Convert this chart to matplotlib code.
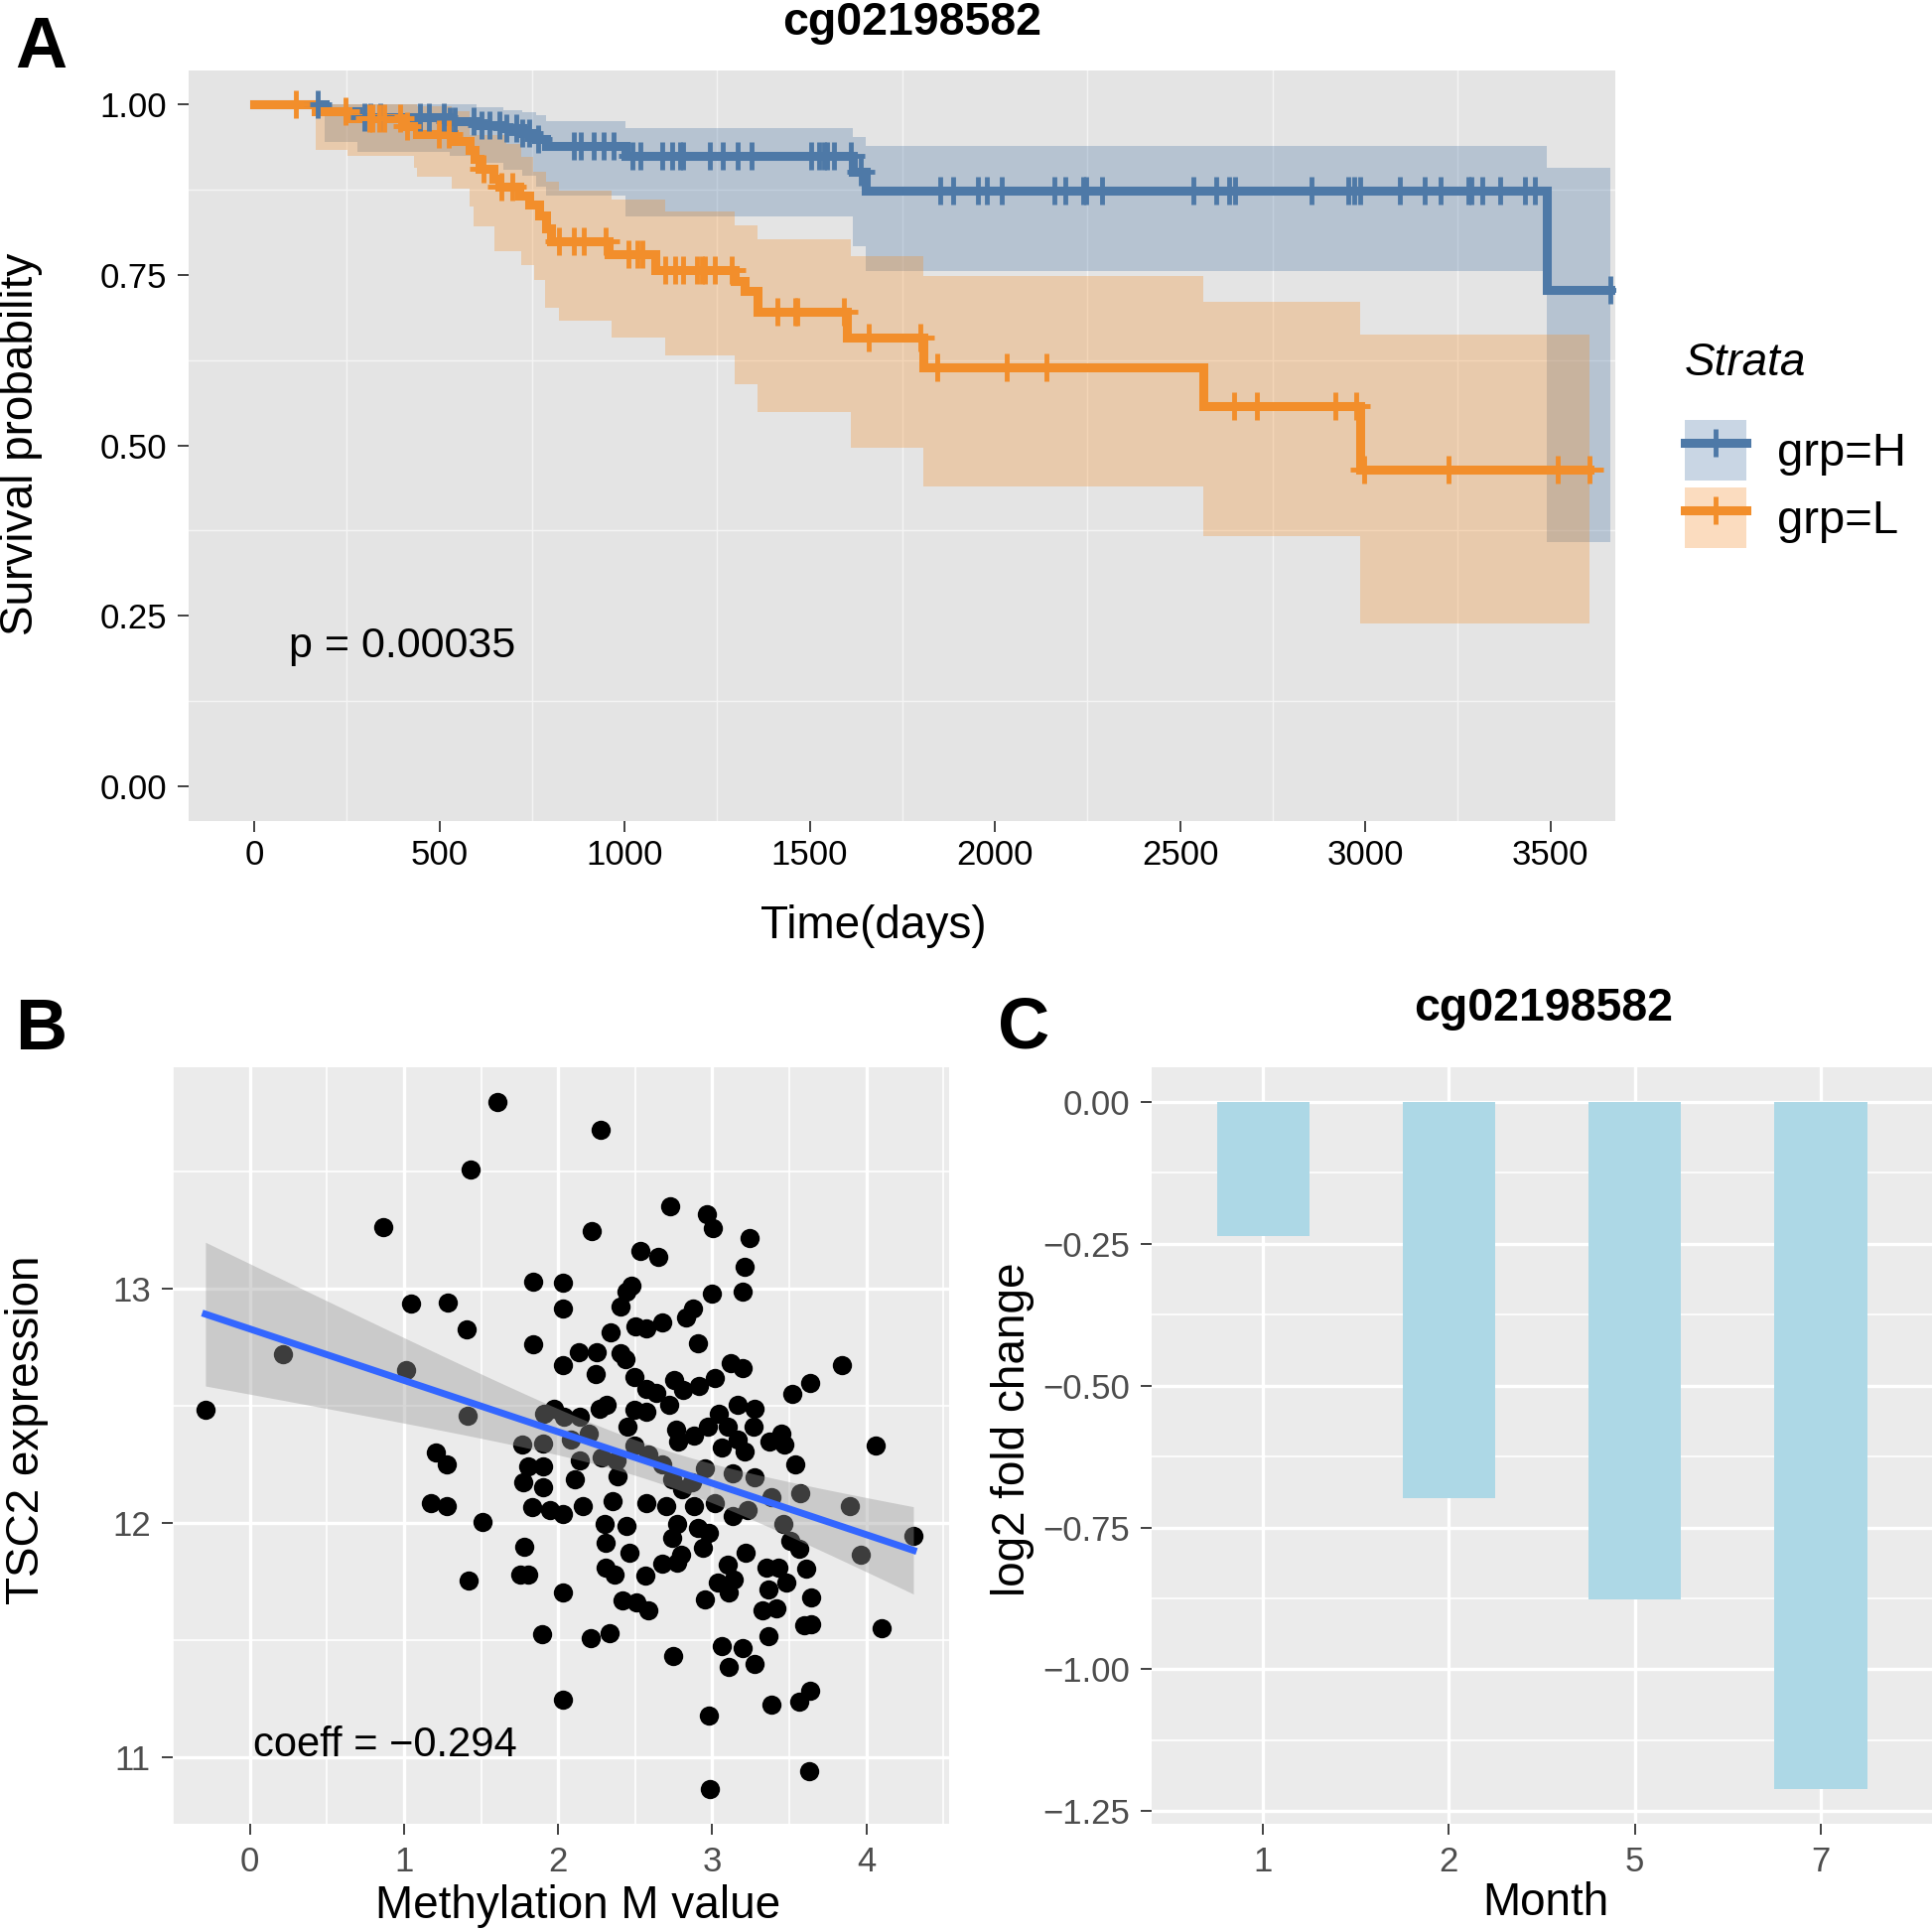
import numpy as np
import matplotlib.pyplot as plt
from matplotlib.patches import Patch
from matplotlib.lines import Line2D

plt.rcParams['font.family'] = ['Liberation Sans', 'DejaVu Sans']

# --- A: Kaplan-Meier data ---
h_time = [0, 190, 280, 529, 600, 672, 725, 761, 788, 1002, 1615, 1650, 3490]
h_surv = [1.0, 0.990, 0.981, 0.975, 0.970, 0.965, 0.958, 0.950, 0.940, 0.925, 0.901, 0.874, 0.728]
h_end = 3661
h_censor = [172, 297, 314, 341, 448, 471, 511, 529, 542, 591, 614, 636, 663, 681, 708, 725,
            743, 766, 864, 882, 918, 944, 971, 1020, 1043, 1101, 1128, 1150, 1159, 1230, 1266,
            1306, 1342, 1503, 1525, 1539, 1547, 1565, 1610, 1637, 1851, 1886, 1954, 1979, 2019,
            2160, 2190, 2238, 2246, 2290, 2536, 2597, 2632, 2649, 2854, 2953, 2971, 2987, 3092,
            3161, 3203, 3277, 3285, 3315, 3363, 3431, 3458, 3661]
h_band_t = [190, 280, 529, 600, 672, 725, 761, 788, 1002, 1615, 1650, 3490]
h_band_lo = [0.945, 0.930, 0.925, 0.915, 0.905, 0.895, 0.880, 0.866, 0.836, 0.792, 0.756, 0.358]
h_band_hi = [1.0, 1.0, 1.0, 0.996, 0.992, 0.989, 0.985, 0.975, 0.965, 0.952, 0.939, 0.907]

l_time = [0, 166, 252, 404, 440, 538, 582, 595, 609, 645, 663, 716, 743, 770, 788, 801, 958,
          1083, 1297, 1324, 1360, 1601, 1806, 2562, 2986]
l_surv = [1.0, 0.991, 0.980, 0.969, 0.957, 0.947, 0.934, 0.921, 0.906, 0.891, 0.879, 0.866,
          0.853, 0.838, 0.819, 0.799, 0.780, 0.758, 0.741, 0.727, 0.696, 0.658, 0.615, 0.558, 0.464]
l_end = 3604
l_censor = [113, 247, 310, 319, 337, 350, 395, 413, 498, 525, 618, 667, 698, 824, 864, 891, 949,
            1011, 1034, 1047, 1110, 1136, 1159, 1195, 1208, 1217, 1244, 1288, 1413, 1462, 1467,
            1592, 1659, 1798, 1845, 2033, 2139, 2645, 2706, 2918, 2976, 2996, 3226, 3520, 3604]
l_band_t = [166, 252, 431, 440, 534, 582, 591, 649, 680, 721, 752, 757, 784, 788, 824, 966, 1110,
            1297, 1360, 1610, 1806, 2563, 2987]
l_band_hi = [1.0, 1.0, 1.0, 0.998, 0.990, 0.955, 0.955, 0.955, 0.942, 0.923, 0.901, 0.901, 0.901,
             0.887, 0.874, 0.860, 0.843, 0.823, 0.802, 0.777, 0.748, 0.711, 0.663]
l_band_lo = [0.933, 0.925, 0.908, 0.894, 0.877, 0.850, 0.821, 0.785, 0.785, 0.765, 0.765, 0.743,
             0.702, 0.702, 0.683, 0.658, 0.632, 0.590, 0.549, 0.497, 0.440, 0.367, 0.239]

# --- B: methylation vs expression ---
meth_m = [-0.288, 0.216, 0.863, 1.014, 1.046, 1.286, 1.430, 1.406, 1.414, 1.605, 1.206, 1.278,
          1.174, 1.278, 1.510, 1.422, 2.276, 2.220, 1.837, 2.029, 2.029, 1.837, 2.133, 2.252,
          2.029, 2.724, 2.963, 3.003, 3.243, 2.532, 2.652, 3.211, 2.476, 2.444, 3.195, 2.995,
          2.404, 2.875, 2.827, 2.676, 2.500, 2.572, 2.340, 2.907, 2.404, 2.436, 3.123, 3.195,
          2.244, 2.492, 2.755, 3.019, 3.634, 3.842, 3.522, 2.572, 2.636, 2.811, 2.915, 2.316,
          2.268, 2.492, 2.572, 2.723, 3.163, 3.275, 3.043, 1.973, 1.909, 2.037, 2.141, 2.452,
          2.763, 2.971, 3.099, 3.267, 3.450, 3.371, 2.883, 3.163, 2.197, 2.085, 1.765, 1.900,
          2.492, 2.779, 3.211, 3.059, 3.466, 4.058, 2.588, 2.284, 2.141, 2.380, 2.676, 3.538,
          1.805, 1.900, 2.955, 3.131, 3.275, 1.773, 1.900, 2.109, 2.388, 2.739, 2.803, 2.867,
          3.387, 3.571, 1.829, 1.949, 2.157, 2.029, 2.356, 2.572, 2.700, 2.883, 3.019, 3.227,
          3.890, 2.300, 2.444, 2.771, 2.907, 2.979, 3.131, 3.459, 3.507, 3.562, 1.781, 2.308,
          2.739, 2.795, 2.460, 2.939, 3.219, 3.099, 3.355, 3.427, 3.610, 3.962, 4.305, 1.757,
          1.805, 2.308, 2.364, 2.676, 2.771, 2.564, 3.035, 3.139, 3.483, 2.029, 2.420, 2.508,
          2.588, 2.955, 3.107, 3.363, 3.642, 3.323, 3.419, 3.594, 3.642, 4.097, 1.893, 2.212,
          2.332, 3.363, 3.059, 3.195, 2.747, 3.275, 3.107, 3.634, 3.562, 3.387, 2.029, 2.979,
          3.626, 2.987]
tsc2_expr = [12.484, 12.721, 13.263, 12.653, 12.937, 12.942, 13.511, 12.826, 12.458, 13.800,
             12.300, 12.253, 12.084, 12.074, 12.005, 11.753, 13.679, 13.247, 13.032, 13.026,
             12.916, 12.763, 12.732, 12.732, 12.674, 13.353, 13.321, 13.258, 13.216, 13.163,
             13.137, 13.095, 13.016, 12.989, 12.989, 12.979, 12.926, 12.916, 12.879, 12.858,
             12.842, 12.832, 12.816, 12.768, 12.726, 12.700, 12.684, 12.663, 12.637, 12.626,
             12.611, 12.621, 12.600, 12.674, 12.553, 12.574, 12.558, 12.568, 12.584, 12.505,
             12.489, 12.484, 12.474, 12.505, 12.505, 12.489, 12.468, 12.489, 12.468, 12.453,
             12.453, 12.411, 12.400, 12.411, 12.411, 12.411, 12.384, 12.347, 12.374, 12.358,
             12.384, 12.358, 12.337, 12.342, 12.332, 12.347, 12.305, 12.321, 12.337, 12.332,
             12.295, 12.279, 12.268, 12.268, 12.253, 12.253, 12.242, 12.242, 12.232, 12.211,
             12.195, 12.174, 12.153, 12.189, 12.200, 12.189, 12.147, 12.174, 12.111, 12.126,
             12.068, 12.058, 12.074, 12.037, 12.095, 12.084, 12.074, 12.074, 12.084, 12.058,
             12.074, 11.995, 11.989, 11.995, 11.979, 11.958, 12.032, 11.995, 11.926, 11.889,
             11.900, 11.916, 11.937, 11.863, 11.874, 11.895, 11.874, 11.821, 11.811, 11.811,
             11.805, 11.863, 11.947, 11.779, 11.779, 11.811, 11.779, 11.826, 11.832, 11.774,
             11.747, 11.758, 11.747, 11.705, 11.668, 11.663, 11.626, 11.674, 11.705, 11.716,
             11.684, 11.626, 11.637, 11.563, 11.568, 11.553, 11.526, 11.511, 11.532, 11.516,
             11.474, 11.468, 11.432, 11.400, 11.384, 11.284, 11.237, 11.226, 11.247, 11.179,
             10.942, 10.863]
coeff_label = "coeff = \u22120.294"

# --- C: fold change ---
months = ["1", "2", "5", "7"]
log2fc = [-0.237, -0.698, -0.876, -1.211]

W, H = 1946, 1945
fig = plt.figure(figsize=(W / 100, H / 100), dpi=100)


def box(l, t, r, b):
    return [l / W, 1 - b / H, (r - l) / W, (b - t) / H]


blue, orange = '#4E79A7', '#F28E2B'

# ================= A =================
axA = fig.add_axes(box(190, 71, 1627, 827))
axA.set_facecolor('#E4E4E4')
for sp in axA.spines.values():
    sp.set_visible(False)


def step_val(times, surv, t):
    idx = np.searchsorted(times, t, side='right') - 1
    return np.asarray(surv)[idx]


for bt, lo, hi, end, c in [(h_band_t, h_band_lo, h_band_hi, h_end, blue),
                           (l_band_t, l_band_lo, l_band_hi, l_end, orange)]:
    axA.fill_between(bt + [end], lo + [lo[-1]], hi + [hi[-1]], step='post',
                     color=c, alpha=0.3, lw=0, zorder=2)

for tt, ss, end, c in [(h_time, h_surv, h_end, blue), (l_time, l_surv, l_end, orange)]:
    axA.step(tt + [end], ss + [ss[-1]], where='post', color=c, lw=6.5, zorder=3,
             solid_joinstyle='miter')
for tt, ss, cens, c in [(h_time, h_surv, h_censor, blue), (l_time, l_surv, l_censor, orange)]:
    axA.plot(cens, step_val(tt, ss, cens), ls='none', marker='+', ms=20, mew=3.5,
             color=c, zorder=4)

axA.set_xlim(-177, 3675)
axA.set_ylim(-0.051, 1.05)
axA.set_xticks(np.arange(0, 3501, 500))
axA.set_yticks([0, 0.25, 0.5, 0.75, 1.0])
axA.set_yticklabels(['0.00', '0.25', '0.50', '0.75', '1.00'])
axA.set_xticks(np.arange(250, 3500, 500), minor=True)
axA.set_yticks([0.125, 0.375, 0.625, 0.875], minor=True)
axA.grid(which='minor', color='#F4F4F4', lw=1.0)
axA.grid(which='major', visible=False)
axA.tick_params(which='major', labelsize=25, length=8, width=1.3, color='#333333',
                labelcolor='black', pad=8)
axA.tick_params(axis='x', which='major', pad=5)
axA.tick_params(which='minor', length=0)
axA.set_axisbelow(True)
axA.text(93, 0.205, 'p = 0.00035', fontsize=31, va='center', ha='left')

fig.text(919 / W, 1 - 35 / H, 'cg02198582', fontsize=33.5, weight='bold',
         ha='center', va='baseline')
fig.text(15 / W, 1 - 68 / H, 'A', fontsize=52, weight='bold', va='baseline')
fig.text(21 / W, 1 - 447 / H, 'Survival probability', fontsize=33, rotation=90,
         ha='center', va='center')
fig.text(880 / W, 1 - 933 / H, 'Time(days)', fontsize=33, ha='center', va='center')

# legend
handles = [(Patch(facecolor=c, alpha=0.3, lw=0),
            Line2D([], [], color=c, lw=6.5, marker='+', ms=20, mew=3.5)) for c in (blue, orange)]
fig.legend(handles, ['grp=H', 'grp=L'], loc='upper left',
           bbox_to_anchor=(1697 / W, 1 - 423 / H), frameon=False, fontsize=34,
           handlelength=1.32, handleheight=1.62, handletextpad=0.64, labelspacing=0.14,
           borderpad=0, borderaxespad=0)
fig.text(1697 / W, 1 - 366 / H, 'Strata', fontsize=33, style='italic', va='center')

# ================= B =================
axB = fig.add_axes(box(174, 1075, 956, 1837))
axB.set_facecolor('#EBEBEB')
for sp in axB.spines.values():
    sp.set_visible(False)
x = np.array(meth_m)
y = np.array(tsc2_expr)
axB.scatter(x, y, s=195, color='black', lw=0, zorder=3)

coef = np.polyfit(x, y, 1)
xs = np.linspace(x.min(), x.max(), 80)
n = len(x)
resid = y - np.polyval(coef, x)
s_err = np.sqrt(np.sum(resid ** 2) / (n - 2))
se = s_err * np.sqrt(1 / n + (xs - x.mean()) ** 2 / np.sum((x - x.mean()) ** 2))
fit = np.polyval(coef, xs)
axB.fill_between(xs, fit - 1.973 * se, fit + 1.973 * se, color='#999999', alpha=0.4,
                 lw=0, zorder=4)
axB.plot(xs, fit, color='#3366FF', lw=5, zorder=5)

axB.set_xlim(-0.495, 4.537)
axB.set_ylim(10.716, 13.947)
axB.set_xticks([0, 1, 2, 3, 4])
axB.set_yticks([11, 12, 13])
axB.set_xticks(np.arange(-0.5, 4.6, 1.0), minor=True)
axB.set_yticks([11.5, 12.5, 13.5], minor=True)
axB.grid(which='major', color='white', lw=2.4)
axB.grid(which='minor', color='white', lw=1.2)
axB.set_axisbelow(True)
axB.tick_params(which='major', labelsize=25, length=8, width=1.3, color='#333333',
                labelcolor='#4D4D4D', pad=8)
axB.tick_params(which='minor', length=0)
axB.text(0.024, 11.05, coeff_label, fontsize=30, va='center', ha='left', zorder=6)

fig.text(15 / W, 1 - 1057 / H, 'B', fontsize=52, weight='bold', va='baseline')
fig.text(27 / W, 1 - 1440 / H, 'TSC2 expression', fontsize=33, rotation=90,
         ha='center', va='center')
fig.text(582 / W, 1 - 1920 / H, 'Methylation M value', fontsize=33, ha='center', va='center')

# ================= C =================
axC = fig.add_axes(box(1160, 1075, 1946, 1837))
axC.set_facecolor('#EBEBEB')
for sp in axC.spines.values():
    sp.set_visible(False)
pos = np.arange(1, len(months) + 1)
axC.bar(pos, log2fc, width=0.5, color='#ADD8E6', zorder=3)
axC.set_xlim(0.4, 4.6)
axC.set_ylim(-1.272, 0.0606)
axC.set_xticks(pos)
axC.set_xticklabels(months)
axC.set_yticks([0, -0.25, -0.5, -0.75, -1.0, -1.25])
axC.set_yticklabels(['0.00', '\u22120.25', '\u22120.50', '\u22120.75', '\u22121.00', '\u22121.25'])
axC.set_yticks([-0.125, -0.375, -0.625, -0.875, -1.125], minor=True)
axC.grid(which='major', color='white', lw=2.4)
axC.grid(which='minor', axis='y', color='white', lw=1.2)
axC.set_axisbelow(True)
axC.tick_params(which='major', labelsize=25, length=8, width=1.3, color='#333333',
                labelcolor='#4D4D4D', pad=8)
axC.tick_params(which='minor', length=0)

fig.text(1555 / W, 1 - 1028 / H, 'cg02198582', fontsize=33.5, weight='bold',
         ha='center', va='baseline')
fig.text(1005 / W, 1 - 1055 / H, 'C', fontsize=52, weight='bold', va='baseline')
fig.text(1020 / W, 1 - 1440 / H, 'log2 fold change', fontsize=33, rotation=90,
         ha='center', va='center')
fig.text(1557 / W, 1 - 1917 / H, 'Month', fontsize=33, ha='center', va='center')

fig.savefig('out.png', dpi=100)
